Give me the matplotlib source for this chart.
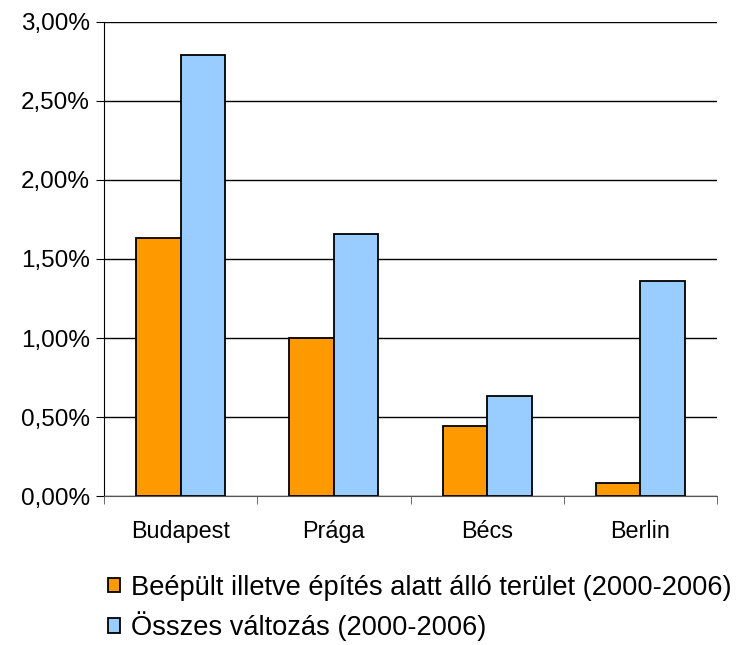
import numpy as np
import matplotlib.pyplot as plt
from matplotlib.ticker import FuncFormatter, FixedLocator

plt.rcParams['font.family'] = ['Liberation Sans', 'DejaVu Sans']

# data (values in %)
cities = ['Budapest', 'Prága', 'Bécs', 'Berlin']
built_up = [1.63, 1.00, 0.44, 0.08]
total_change = [2.79, 1.66, 0.63, 1.36]
series_names = ['Beépült illetve építés alatt álló terület (2000-2006)',
                'Összes változás (2000-2006)']

fig = plt.figure(figsize=(7.37, 6.45), dpi=100)
ax = fig.add_axes([0.1411, 0.231, 0.8318, 0.7349])

x = np.arange(len(cities))
w = 0.29
b1 = ax.bar(x - w / 2, built_up, w, color='#FF9900', edgecolor='black', linewidth=1.3,
            label=series_names[0], zorder=3)
b2 = ax.bar(x + w / 2, total_change, w, color='#99CCFF', edgecolor='black', linewidth=1.3,
            label=series_names[1], zorder=3)

ax.set_xlim(-0.5, len(cities) - 0.5)
ax.set_ylim(0, 3.0)
ax.set_yticks(np.arange(0, 3.01, 0.5))
ax.yaxis.set_major_formatter(FuncFormatter(lambda v, p: ('%.2f%%' % v).replace('.', ',')))
ax.yaxis.grid(True, color='black', linewidth=1)
ax.set_axisbelow(True)

ax.set_xticks(x)
ax.set_xticklabels(cities)
ax.tick_params(axis='x', length=0, labelsize=16.8, pad=17)
ax.xaxis.set_minor_locator(FixedLocator(np.arange(-0.5, len(cities), 1.0)))
ax.tick_params(axis='x', which='minor', length=6, color='#555555')
ax.tick_params(axis='y', length=6, labelsize=17.5, pad=4)

for s in ['top', 'right']:
    ax.spines[s].set_visible(False)
ax.spines['left'].set_color('black')
ax.spines['bottom'].set_color('#555555')

leg = fig.legend(handles=[b1, b2], loc='upper left', bbox_to_anchor=(0.146, 0.109),
                 frameon=False, fontsize=19.6, handlelength=0.45, handleheight=0.45,
                 handletextpad=0.42, labelspacing=0.4, borderaxespad=0,
                 borderpad=0)

fig.savefig('out.png', dpi=100)
